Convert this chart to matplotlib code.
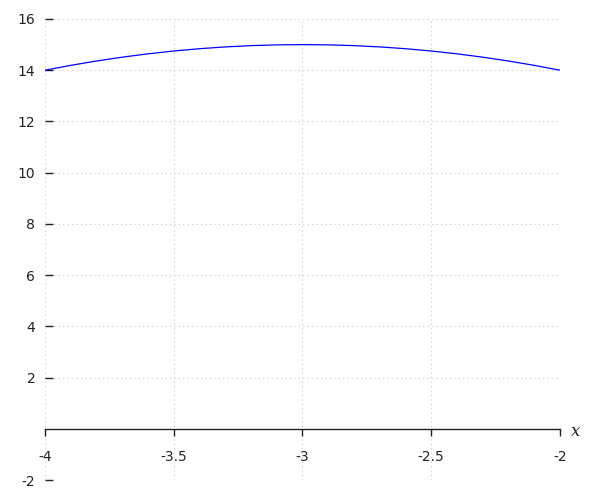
import matplotlib
matplotlib.use("Agg")
import matplotlib.pyplot as plt

x_vals = [-4.0, -3.9, -3.8, -3.7, -3.6, -3.5, -3.4, -3.3, -3.2, -3.1, -3.0,
          -2.9, -2.8, -2.7, -2.6, -2.5, -2.4, -2.3, -2.2, -2.1, -2.0]
y_vals = [14.0, 14.19, 14.36, 14.51, 14.64, 14.75, 14.84, 14.91, 14.96, 14.99, 15.0,
          14.99, 14.96, 14.91, 14.84, 14.75, 14.64, 14.51, 14.36, 14.19, 14.0]
x_ticks = [-4, -3.5, -3, -2.5, -2]
x_tick_labels = ["-4", "-3.5", "-3", "-2.5", "-2"]
y_ticks = [-2, 2, 4, 6, 8, 10, 12, 14, 16]
y_tick_labels = ["-2", "2", "4", "6", "8", "10", "12", "14", "16"]

fig = plt.figure(figsize=(6, 5), dpi=100)
ax = fig.add_axes([0.075, 0.04, 0.8583, 0.922])
ax.plot(x_vals, y_vals, color="blue", linewidth=0.9)
ax.set_xlim(-4, -2)
ax.set_ylim(-2, 16)

for s in ["left", "top", "right"]:
    ax.spines[s].set_visible(False)
ax.spines["bottom"].set_position(("data", 0))
ax.spines["bottom"].set_color("#222222")
ax.spines["bottom"].set_linewidth(1.0)

ax.set_xticks(x_ticks)
ax.set_xticklabels(x_tick_labels)
ax.set_yticks(y_ticks)
ax.set_yticklabels(y_tick_labels)
ax.tick_params(axis="x", direction="out", length=5, width=1, pad=10,
               labelsize=10, colors="#222222")
ax.tick_params(axis="y", direction="in", length=6, width=1, pad=7,
               labelsize=10, colors="#222222")

ax.grid(True, linestyle=(0, (1, 3)), color="#c8c8c8", linewidth=0.8)

ax.annotate("x", xy=(1, 0), xycoords=("axes fraction", "data"), xytext=(8, -2),
            textcoords="offset points", fontsize=12, fontstyle="italic",
            family="DejaVu Serif", va="center", ha="left", color="#222222")

fig.savefig("out.png", dpi=100)
